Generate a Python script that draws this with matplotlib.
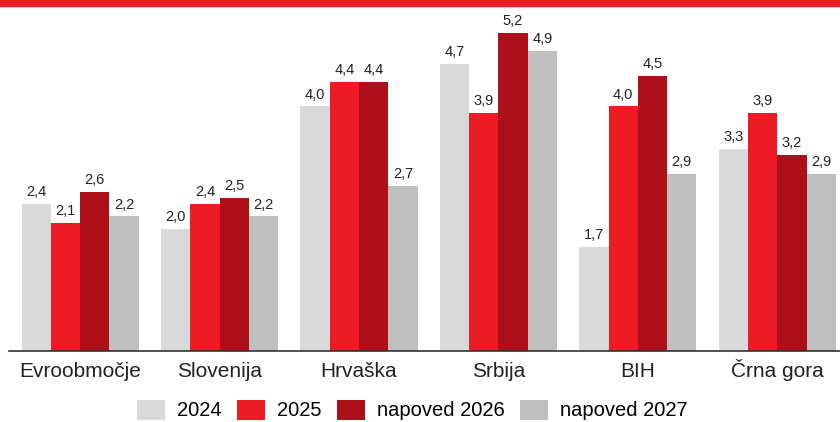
import numpy as np
import matplotlib
matplotlib.use("Agg")
import matplotlib.pyplot as plt
import matplotlib.transforms as transforms
from matplotlib.patches import Rectangle

plt.rcParams['font.family'] = ['Liberation Sans', 'DejaVu Sans']

categories = ["Evroobmočje", "Slovenija", "Hrvaška", "Srbija", "BIH", "Črna gora"]
series_names = ["2024", "2025", "napoved 2026", "napoved 2027"]
v2024 = [2.4, 2.0, 4.0, 4.7, 1.7, 3.3]
v2025 = [2.1, 2.4, 4.4, 3.9, 4.0, 3.9]
v2026 = [2.6, 2.5, 4.4, 5.2, 4.5, 3.2]
v2027 = [2.2, 2.2, 2.7, 4.9, 2.9, 2.9]
colors = ["#d9d9d9", "#ed1c24", "#ad1019", "#bfbfbf"]

fig = plt.figure(figsize=(8.4, 4.22), dpi=100)
ax = fig.add_axes([9 / 840, 1 - 351 / 422, 831 / 840, 351 / 422])

x = np.arange(len(categories))
w = 0.21
for i, (vals, c, name) in enumerate(zip([v2024, v2025, v2026, v2027], colors, series_names)):
    pos = x + (i - 1.5) * w
    ax.bar(pos, vals, w, color=c, label=name)
    for p, v in zip(pos, vals):
        ax.text(p, v + 0.08, f"{v:.1f}".replace(".", ","), ha="center", va="bottom",
                fontsize=10.5, color="#222222")

ax.set_xlim(-0.51, 5.45)
ax.set_ylim(0, 5.74)
ax.set_yticks([])
for s in ["top", "right", "left"]:
    ax.spines[s].set_visible(False)
ax.spines["bottom"].set_color("#333333")
ax.spines["bottom"].set_linewidth(1.2)
ax.set_xticks([])

# category labels sharing one baseline
trans = transforms.blended_transform_factory(ax.transData, fig.transFigure)
for xi, cat in zip(x, categories):
    ax.text(xi, 1 - 377 / 422, cat, transform=trans, ha="center", va="baseline",
            fontsize=15, color="#222222")

fig.legend(loc="center", bbox_to_anchor=(0.491, 1 - 410 / 422), ncol=4, frameon=False,
           fontsize=14.5, handlelength=1.4, handleheight=1.15, handletextpad=0.6,
           columnspacing=0.75)

fig.patches.append(Rectangle((0, 1 - 6 / 422), 1, 6 / 422, transform=fig.transFigure,
                             color="#ed1c24", zorder=10))

fig.savefig("out.png", dpi=100)
